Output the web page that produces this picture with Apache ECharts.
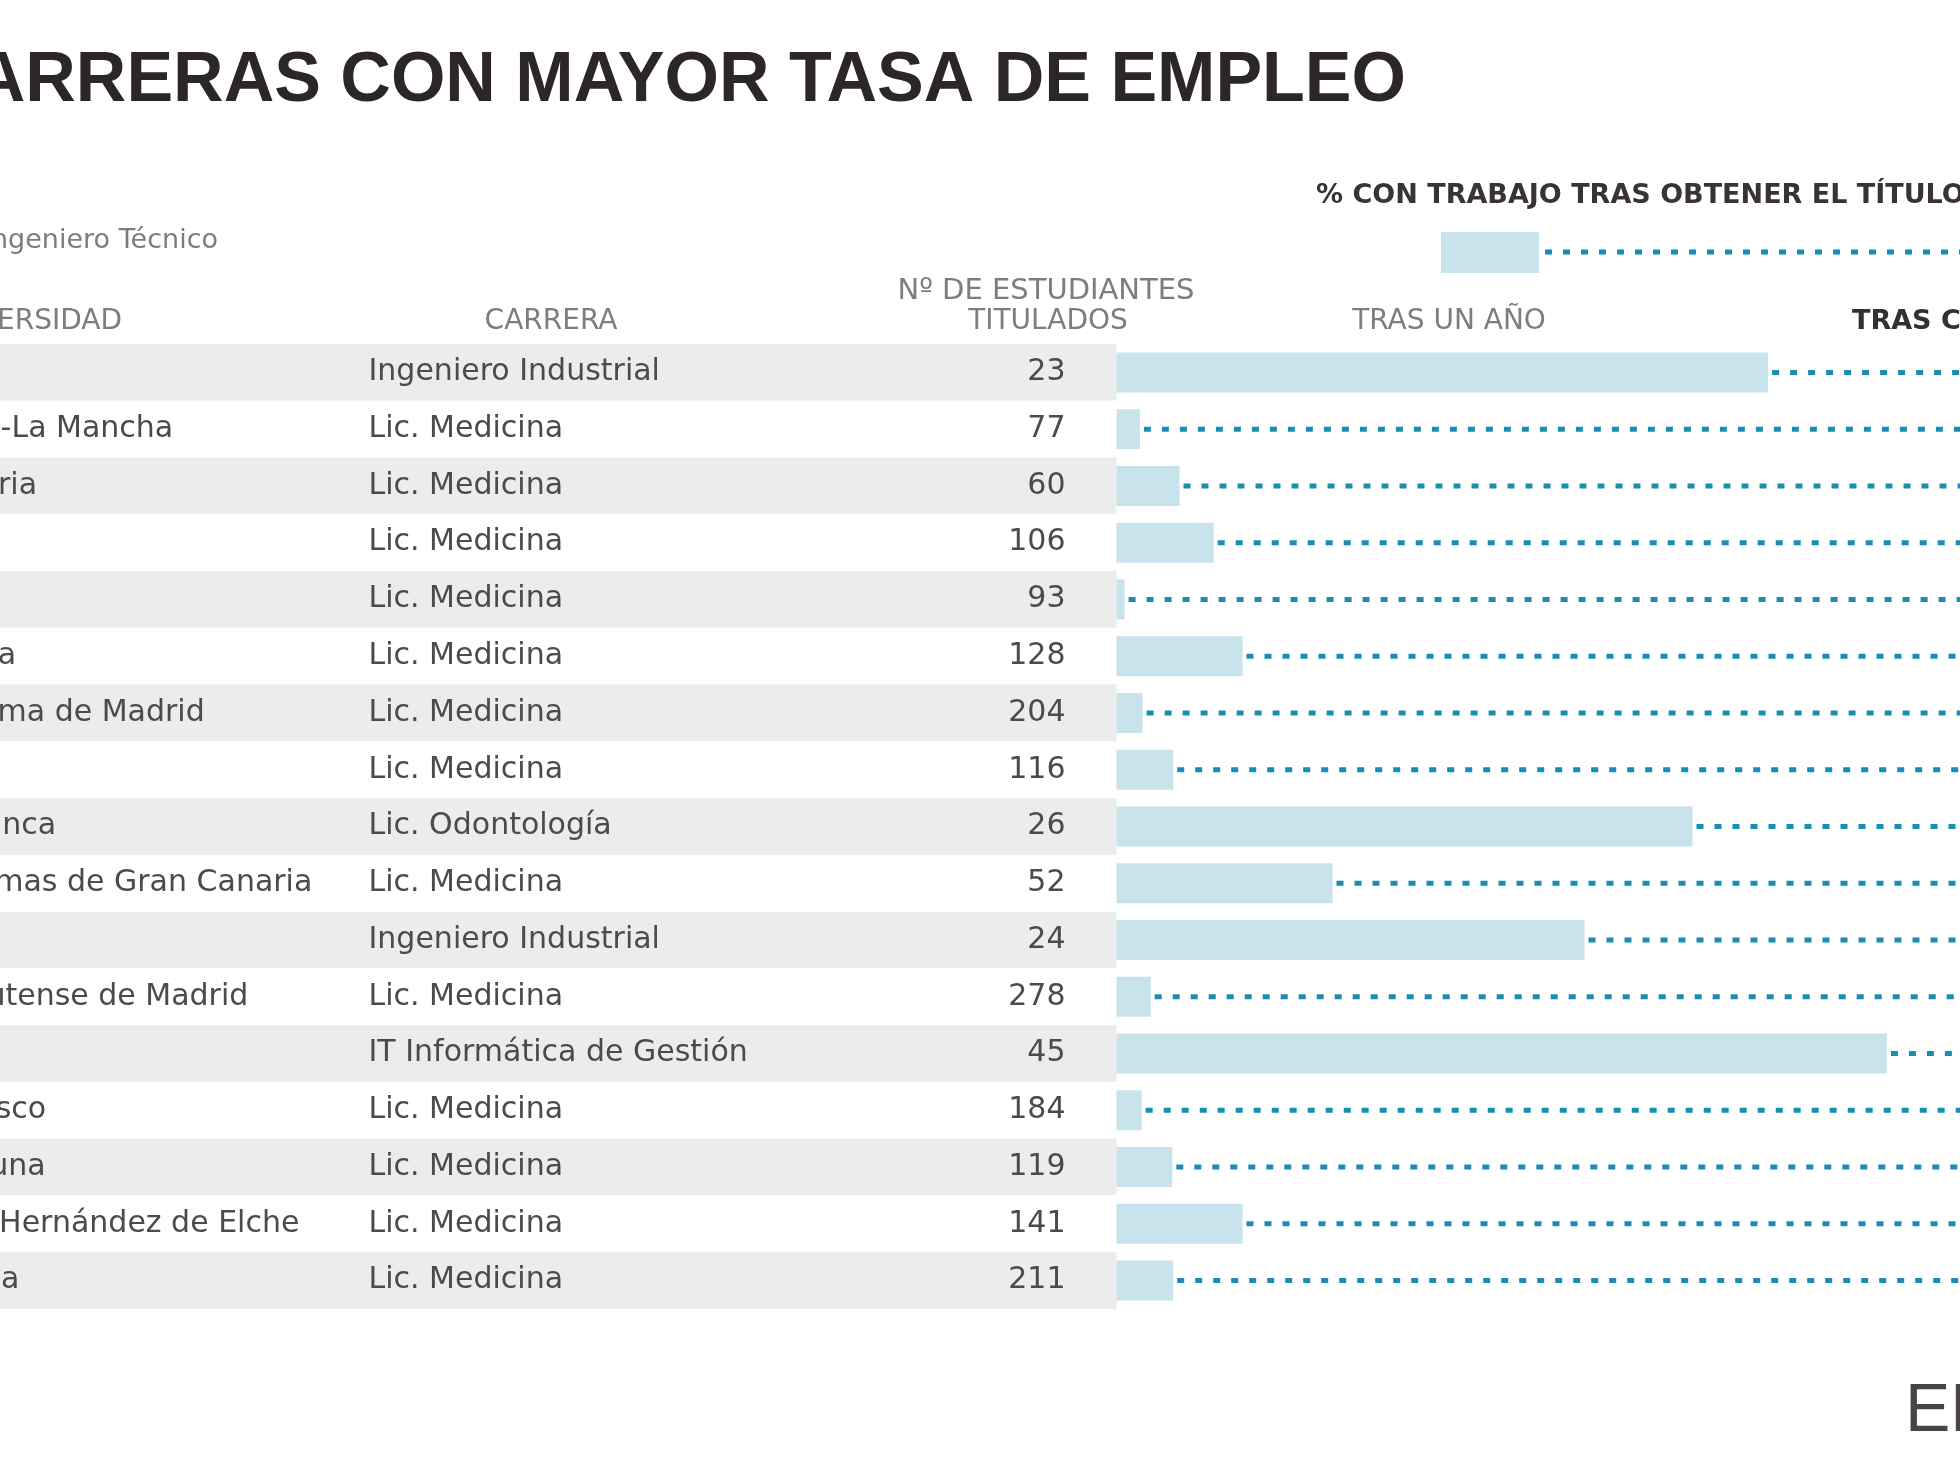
<!DOCTYPE html>
<html>
<head>
<meta charset="utf-8">
<title>Carreras con mayor tasa de empleo</title>
<script src="https://cdn.jsdelivr.net/npm/echarts@6/dist/echarts.min.js"></script>
<style>
  html, body { margin: 0; padding: 0; background: #fff; }
  #main { width: 1960px; height: 1470px; }
</style>
</head>
<body>
<div id="main"></div>
<script>
// datos
var universidades = [
  'Vigo', 'Castilla-La Mancha', 'Cantabria', 'Alcalá', 'Lleida', 'Valencia',
  'Autónoma de Madrid', 'Cádiz', 'Salamanca', 'Las Palmas de Gran Canaria',
  'León', 'Complutense de Madrid', 'Jaén', 'País Vasco', 'La Laguna',
  'Miguel Hernández de Elche', 'Granada'
];
var carreras = [
  'Ingeniero Industrial', 'Lic. Medicina', 'Lic. Medicina', 'Lic. Medicina',
  'Lic. Medicina', 'Lic. Medicina', 'Lic. Medicina', 'Lic. Medicina',
  'Lic. Odontología', 'Lic. Medicina', 'Ingeniero Industrial', 'Lic. Medicina',
  'IT Informática de Gestión', 'Lic. Medicina', 'Lic. Medicina', 'Lic. Medicina',
  'Lic. Medicina'
];
var titulados = [23, 77, 60, 106, 93, 128, 204, 116, 26, 52, 24, 278, 45, 184, 119, 141, 211];
// % con trabajo
var trasUnAno = [72.4, 2.6, 7.0, 10.8, 0.9, 14.0, 2.9, 6.3, 64.0, 24.0, 52.0, 3.8, 85.6, 2.8, 6.2, 14.0, 6.3];
var trasCuatroAnos = [97, 99, 98, 98, 97, 99, 99, 98, 100, 98, 97, 99, 96, 98, 99, 98, 98];

var BAR = '#c8e3eb';
var DOT = '#1b8cb2';
var FONT = 'DejaVu Sans';

var chart = echarts.init(document.getElementById('main'));

var lineData = trasUnAno.map(function (v, i) {
  return [v, trasCuatroAnos[i], i];
});

var option = {
  animation: false,
  backgroundColor: '#fff',
  grid: [
    { left: 1116.5, top: 344, width: 900, height: 965, outerBoundsMode: 'none', containLabel: false },   // barras
    { left: 0, top: 344, width: 1116.5, height: 965, outerBoundsMode: 'none', containLabel: false }      // franjas de la tabla
  ],
  xAxis: [
    { gridIndex: 0, type: 'value', min: 0, max: 100, show: false },
    { gridIndex: 1, type: 'value', min: 0, max: 1, show: false }
  ],
  yAxis: [
    {
      gridIndex: 0,
      type: 'category',
      inverse: true,
      data: universidades,
      axisLine: { show: false },
      axisTick: { show: false },
      axisLabel: {
        interval: 0,
        margin: 51,
        fontFamily: FONT,
        fontSize: 30,
        color: '#4b4b4b',
        formatter: function (val, idx) {
          return '{u|' + universidades[idx] + '}{c|' + carreras[idx] + '}{n|' + titulados[idx] + '}';
        },
        rich: {
          u: { width: 478, align: 'left', fontFamily: FONT, fontSize: 30, color: '#4b4b4b' },
          c: { width: 475, align: 'left', fontFamily: FONT, fontSize: 30, color: '#4b4b4b' },
          n: { width: 222, align: 'right', fontFamily: FONT, fontSize: 30, color: '#4b4b4b' }
        }
      }
    },
    {
      gridIndex: 1,
      type: 'category',
      inverse: true,
      data: universidades,
      axisLine: { show: false },
      axisTick: { show: false },
      axisLabel: { show: false },
      splitArea: {
        show: true,
        areaStyle: { color: ['#ececec', '#ffffff'] }
      }
    }
  ],
  series: [
    {
      name: 'Tras un año',
      type: 'bar',
      xAxisIndex: 0,
      yAxisIndex: 0,
      data: trasUnAno,
      barWidth: 40,
      itemStyle: { color: BAR },
      silent: true
    },
    {
      name: 'Tras cuatro años',
      type: 'custom',
      xAxisIndex: 0,
      yAxisIndex: 0,
      clip: false,
      data: lineData,
      encode: { x: [0, 1], y: 2 },
      renderItem: function (params, api) {
        var a = api.coord([api.value(0), api.value(2)]);
        var b = api.coord([api.value(1), api.value(2)]);
        return {
          type: 'line',
          shape: { x1: a[0] + 4, y1: a[1], x2: b[0], y2: b[1] },
          style: { stroke: DOT, lineWidth: 5, lineDash: [7, 11] }
        };
      }
    }
  ],
  graphic: [
    {
      type: 'text', x: 1406, y: 82,
      style: {
        text: 'CARRERAS CON MAYOR TASA DE EMPLEO',
        font: 'bold 70px "Liberation Sans"',
        fill: '#2d2629', align: 'right', verticalAlign: 'middle'
      }
    },
    {
      type: 'text', x: 1316, y: 196,
      style: {
        text: '% CON TRABAJO TRAS OBTENER EL TÍTULO',
        font: 'bold 27px "DejaVu Sans"',
        fill: '#3a3336', align: 'left', verticalAlign: 'middle'
      }
    },
    {
      type: 'text', x: 218, y: 241,
      style: {
        text: 'IT: Ingeniero Técnico',
        font: '27px "DejaVu Sans"',
        fill: '#7d7d7d', align: 'right', verticalAlign: 'middle'
      }
    },
    {
      type: 'rect',
      shape: { x: 1441, y: 232, width: 98, height: 41 },
      style: { fill: BAR }
    },
    {
      type: 'line',
      shape: { x1: 1545, y1: 252, x2: 1970, y2: 252 },
      style: { stroke: DOT, lineWidth: 5, lineDash: [7, 11] }
    },
    {
      type: 'text', x: 122, y: 322,
      style: { text: 'UNIVERSIDAD', font: '28px "DejaVu Sans"', fill: '#7d7d7d', align: 'right', verticalAlign: 'middle' }
    },
    {
      type: 'text', x: 551, y: 322,
      style: { text: 'CARRERA', font: '28px "DejaVu Sans"', fill: '#7d7d7d', align: 'center', verticalAlign: 'middle' }
    },
    {
      type: 'text', x: 1046, y: 291,
      style: { text: 'Nº DE ESTUDIANTES', font: '29px "DejaVu Sans"', fill: '#7d7d7d', align: 'center', verticalAlign: 'middle' }
    },
    {
      type: 'text', x: 1048, y: 322,
      style: { text: 'TITULADOS', font: '28px "DejaVu Sans"', fill: '#7d7d7d', align: 'center', verticalAlign: 'middle' }
    },
    {
      type: 'text', x: 1449, y: 322,
      style: { text: 'TRAS UN AÑO', font: '28px "DejaVu Sans"', fill: '#7d7d7d', align: 'center', verticalAlign: 'middle' }
    },
    {
      type: 'text', x: 1852, y: 322,
      style: { text: 'TRAS CUATRO AÑOS', font: 'bold 27px "DejaVu Sans"', fill: '#333033', align: 'left', verticalAlign: 'middle' }
    },
    {
      type: 'text', x: 1905, y: 1412,
      style: { text: 'EL PAÍS', font: '68px "Liberation Sans"', fill: '#4a4448', align: 'left', verticalAlign: 'middle' }
    }
  ]
};

chart.setOption(option);
</script>
</body>
</html>
